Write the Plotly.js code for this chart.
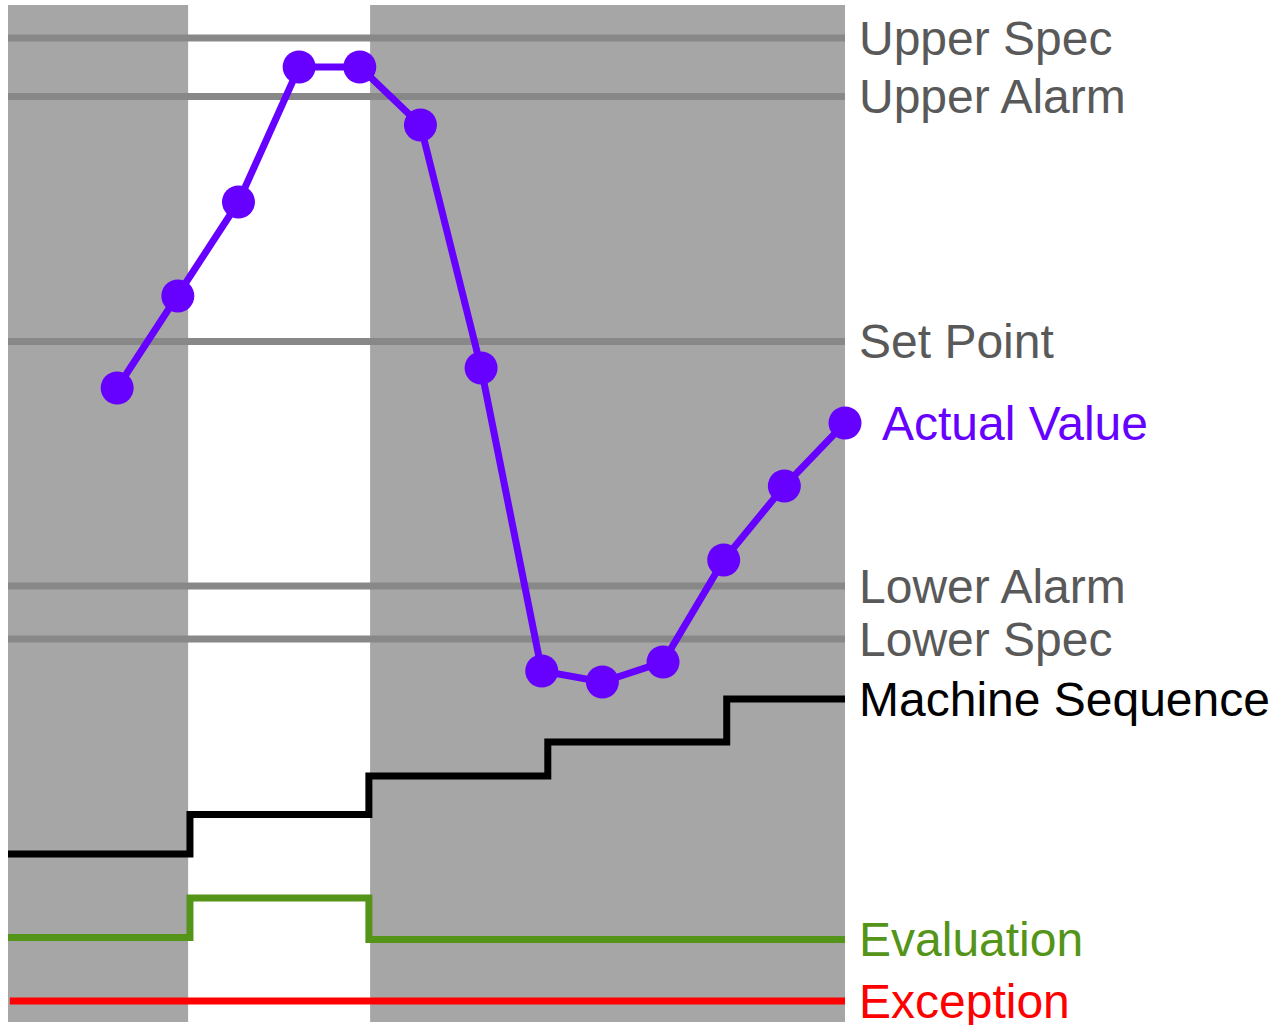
<!DOCTYPE html>
<html>
<head>
<meta charset="utf-8">
<script src="https://cdn.plot.ly/plotly-3.0.1.min.js"></script>
<style>html,body{margin:0;padding:0;background:#fff;}#chart{width:1274px;height:1025px;}</style>
</head>
<body>
<div id="chart"></div>
<script>
// ---- data ----
const timeStart = 0, timeEnd = 13.8;
const sampleTimes = [1.8, 2.8, 3.8, 4.8, 5.8, 6.8, 7.8, 8.8, 9.8, 10.8, 11.8, 12.8, 13.8];
const actualValue = [63.4, 72.6, 82.0, 95.5, 95.5, 89.7, 65.4, 35.1, 34.0, 36.0, 46.2, 53.6, 59.9];

const upperSpec = 98.4;
const upperAlarm = 92.55;
const setPoint = 68.05;
const lowerAlarm = 43.6;
const lowerSpec = 38.3;

const seqTimes = [0, 3.0, 5.95, 8.9, 11.85, 13.8];
const seqValues = [16.8, 20.75, 24.6, 28.0, 32.3, 32.3];

const evalTimes = [0, 3.0, 5.95, 13.8];
const evalValues = [8.45, 12.4, 8.25, 8.25];

const exceptionTimes = [0.03, 13.8];
const exceptionValues = [2.1, 2.1];

const shadedPeriods = [[0, 2.97], [5.97, 13.8]];

const labelNames = ["Upper Spec", "Upper Alarm", "Set Point", "Actual Value", "Lower Alarm", "Lower Spec", "Machine Sequence", "Evaluation", "Exception"];

// ---- styles ----
const GRAY_LINE = '#888888', GRAY_TEXT = '#595959', SHADE = '#a6a6a6';
const PURPLE = '#6600ff', GREEN = '#549418', RED = '#ff0000', BLACK = '#000000';
const FONT = '"Liberation Sans", Arial, sans-serif';

const limits = [upperSpec, upperAlarm, setPoint, lowerAlarm, lowerSpec];
const traces = limits.map(v => ({
  x: [timeStart, timeEnd], y: [v, v], mode: 'lines', type: 'scatter',
  line: {color: GRAY_LINE, width: 7}, hoverinfo: 'skip'
}));
traces.push({x: seqTimes, y: seqValues, mode: 'lines', line: {color: BLACK, width: 7, shape: 'hv'}});
traces.push({x: evalTimes, y: evalValues, mode: 'lines', line: {color: GREEN, width: 7, shape: 'hv'}});
traces.push({x: exceptionTimes, y: exceptionValues, mode: 'lines', line: {color: RED, width: 7}});
traces.push({x: sampleTimes, y: actualValue, mode: 'lines+markers', cliponaxis: false,
  line: {color: PURPLE, width: 7}, marker: {color: PURPLE, size: 33}});

const lastActual = actualValue[actualValue.length - 1];
const labelY = [upperSpec, upperAlarm, setPoint, lastActual, lowerAlarm, lowerSpec, seqValues[seqValues.length-1], evalValues[evalValues.length-1], exceptionValues[1]];
const labelColors = [GRAY_TEXT, GRAY_TEXT, GRAY_TEXT, PURPLE, GRAY_TEXT, GRAY_TEXT, BLACK, GREEN, RED];
const labelShift = [12, 12, 12, 35, 12, 12, 12, 12, 12];

const annotations = labelNames.map((t, i) => ({
  text: t, xref: 'x', yref: 'y', x: timeEnd, y: labelY[i],
  xanchor: 'left', yanchor: 'middle', xshift: labelShift[i], yshift: 0,
  showarrow: false, font: {family: FONT, size: 48, color: labelColors[i]}
}));

const shapes = shadedPeriods.map(p => ({
  type: 'rect', xref: 'x', yref: 'paper', x0: p[0], x1: p[1], y0: 0, y1: 1,
  fillcolor: SHADE, line: {width: 0}, layer: 'below'
}));

const layout = {
  width: 1274, height: 1025,
  margin: {l: 8, r: 429, t: 5, b: 3, pad: 0},
  paper_bgcolor: '#ffffff', plot_bgcolor: '#ffffff',
  showlegend: false,
  xaxis: {range: [timeStart, timeEnd], showgrid: false, zeroline: false, showticklabels: false, ticks: '', showline: false},
  yaxis: {range: [0, 101.7], showgrid: false, zeroline: false, showticklabels: false, ticks: '', showline: false},
  shapes: shapes, annotations: annotations
};

Plotly.newPlot('chart', traces, layout, {displayModeBar: false, staticPlot: true});
</script>
</body>
</html>
